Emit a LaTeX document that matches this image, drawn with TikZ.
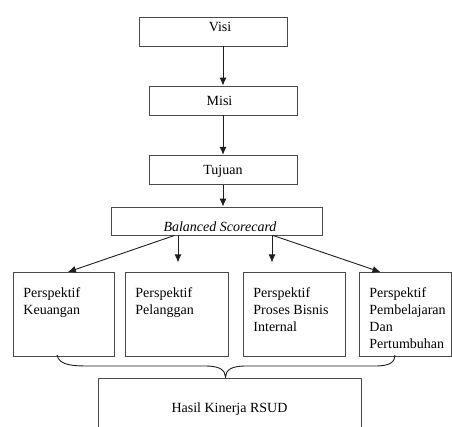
\documentclass[tikz,border=0pt]{standalone}
\usepackage{fontspec}
\setmainfont{Liberation Serif}
\usetikzlibrary{arrows.meta}

\begin{document}
\begin{tikzpicture}[x=1pt,y=-1pt,>={Latex[length=8pt,width=7pt]},
	font=\fontsize{14}{17}\selectfont]

\definecolor{bline}{HTML}{4A4A4A} % box border
\definecolor{aline}{HTML}{1E1E1E} % arrows

\tikzstyle{stepbox}=[rectangle,draw=bline,line width=0.9pt,inner sep=0pt,
	text=black]

\tikzstyle{persp}=[rectangle,draw=bline,line width=0.9pt,inner sep=0pt,
	anchor=north west,align=left]

\tikzstyle{flow}=[->,color=aline,line width=0.9pt]

  \useasboundingbox (0,0) rectangle (452,426);
  \clip (0,0) rectangle (452,426);

  \node  (visi)   at (213,31.5)  [stepbox,minimum width=148pt,minimum height=29pt,
         text depth=10pt]  {\hspace{14pt}Visi};
  \node  (misi)   at (223,100.5) [stepbox,minimum width=148pt,minimum height=29pt]
         {\hspace{-7pt}Misi};
  \node  (tujuan) at (223,169.7) [stepbox,minimum width=148pt,minimum height=29pt,
         text depth=0pt]  {Tujuan};
  \node  (bsc)    at (216.5,221) [stepbox,minimum width=211pt,minimum height=28pt,
         text height=21pt,text depth=0pt]
         {\hspace{7pt}\textit{Balanced Scorecard}};

  \node  (p1) at (13,272)  [persp]
         {\hspace{10pt}\parbox[c][84pt][t]{81pt}{\vspace*{15pt}Perspektif\\Keuangan}\hspace{10pt}};
  \node  (p2) at (125,272) [persp]
         {\hspace{10pt}\parbox[c][84pt][t]{83pt}{\vspace*{15pt}Perspektif\\Pelanggan}\hspace{10pt}};
  \node  (p3) at (243,272) [persp]
         {\hspace{10pt}\parbox[c][84pt][t]{82pt}{\vspace*{15pt}Perspektif\\Proses Bisnis\\Internal}\hspace{10pt}};
  \node  (p4) at (359,272) [persp]
         {\hspace{10pt}\parbox[c][84pt][t]{82pt}{\vspace*{15pt}Perspektif\\Pembelajaran\\Dan\\Pertumbuhan}};

  \node  (hasil) at (229.5,378) [stepbox,anchor=north,minimum width=263pt,
         minimum height=59pt,text height=9.5pt,text depth=0pt]
         {Hasil Kinerja RSUD};

  \path (visi.south -| misi.north)  edge [flow] (misi.north)
        (misi.south)  edge [flow] (tujuan.north)
        (tujuan.south) edge [flow] (tujuan.south |- bsc.north)

        ([xshift=-42pt]bsc.south)   edge [flow] ([xshift=4pt]p1.north)
        ([xshift=-38.5pt]bsc.south) edge [flow] ([xshift=-38.5pt,yshift=-27pt]bsc.south)
        ([xshift=55.5pt]bsc.south)  edge [flow] ([xshift=55.5pt,yshift=-27pt]bsc.south)
        ([xshift=56.5pt]bsc.south)  edge [flow] ([xshift=-25pt]p4.north);

  % brace joining the four perspectives
  \draw [color=aline,line width=0.9pt]
        (57,355) .. controls (59,366) and (75,366) .. (90,366) -- (205,366)
        .. controls (220,366) and (225,370) .. (225.5,377)
        .. controls (226,370) and (231,366) .. (246,366) -- (375,366)
        .. controls (390,366) and (395,362) .. (395,355);

\end{tikzpicture}
\end{document}
